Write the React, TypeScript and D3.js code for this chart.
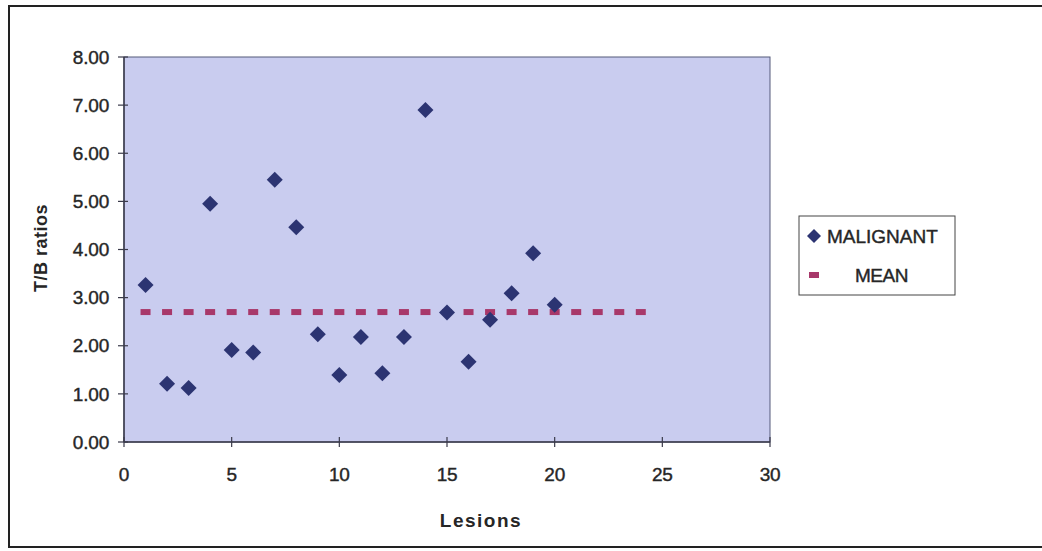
import React from "react";
import * as d3 from "d3";

// Lesion number vs T/B ratio (malignant)
const lesions = [1, 2, 3, 4, 5, 6, 7, 8, 9, 10, 11, 12, 13, 14, 15, 16, 17, 18, 19, 20];
const malignant = [
  3.26, 1.21, 1.12, 4.95, 1.91, 1.86, 5.45, 4.46, 2.24, 1.39,
  2.18, 1.43, 2.18, 6.9, 2.69, 1.67, 2.54, 3.09, 3.92, 2.85,
];

// Mean series drawn as dash markers
const meanX = [1, 2, 3, 4, 5, 6, 7, 8, 9, 10, 11, 12, 13, 14, 15, 16, 17, 18, 19, 20, 21, 22, 23, 24];
const meanValues = [
  2.7, 2.7, 2.7, 2.7, 2.7, 2.7, 2.7, 2.7, 2.7, 2.7, 2.7, 2.7,
  2.7, 2.7, 2.7, 2.7, 2.7, 2.7, 2.7, 2.7, 2.7, 2.7, 2.7, 2.7,
];

const xTicks = [0, 5, 10, 15, 20, 25, 30];
const yTicks = [0, 1, 2, 3, 4, 5, 6, 7, 8];

const seriesNames = ["MALIGNANT", "MEAN"];

const W = 1042;
const H = 551;
const margin = { top: 57, right: 272, bottom: 109, left: 124 };
const font = "'Liberation Sans', Arial, sans-serif";
const navy = "#2c3472";
const crimson = "#a8386a";
const ink = "#262626";

export default function App() {
  const w = W - margin.left - margin.right;
  const h = H - margin.top - margin.bottom;

  const x = d3.scaleLinear().domain([0, 30]).range([0, w]);
  const y = d3.scaleLinear().domain([0, 8]).range([h, 0]);

  const diamond = (cx: number, cy: number, r: number) =>
    `M${cx},${cy - r}L${cx + r},${cy}L${cx},${cy + r}L${cx - r},${cy}Z`;

  const heavy = { stroke: ink, strokeWidth: 0.4 };

  return (
    <svg
      width={W}
      height={H}
      style={{ position: "absolute", left: 0, top: 0, background: "#fff" }}
    >
      {/* outer frame */}
      <rect x={9} y={6} width={W + 10} height={541} fill="none" stroke="#222" strokeWidth={2} />

      <g transform={`translate(${margin.left},${margin.top})`}>
        <rect x={0} y={0} width={w} height={h} fill="#c9ccef" stroke="#555a7a" strokeWidth={1} />

        {/* axes */}
        <line x1={0} x2={0} y1={0} y2={h} stroke="#3a3a4a" strokeWidth={1.5} />
        <line x1={0} x2={w} y1={h} y2={h} stroke="#3a3a4a" strokeWidth={1.5} />

        {yTicks.map((t) => (
          <g key={"y" + t} transform={`translate(0,${y(t)})`}>
            <line x1={-6} x2={4} stroke="#3a3a4a" strokeWidth={1.2} />
            <text
              x={-15}
              dy="0.35em"
              textAnchor="end"
              fontFamily={font}
              fontSize={19}
              fill={ink}
              letterSpacing={-0.2}
              {...heavy}
            >
              {d3.format(".2f")(t)}
            </text>
          </g>
        ))}

        {xTicks.map((t) => (
          <g key={"x" + t} transform={`translate(${x(t)},${h})`}>
            <line y1={-5} y2={5} stroke="#3a3a4a" strokeWidth={1.2} />
            <text
              y={39}
              textAnchor="middle"
              fontFamily={font}
              fontSize={19}
              fill={ink}
              letterSpacing={-0.2}
              {...heavy}
            >
              {t}
            </text>
          </g>
        ))}

        {/* mean markers */}
        {meanX.map((d, i) => (
          <rect
            key={"m" + i}
            x={x(d) - 5}
            y={y(meanValues[i]) - 3}
            width={10}
            height={6}
            fill={crimson}
          />
        ))}

        {/* malignant points */}
        {lesions.map((d, i) => (
          <path key={"p" + i} d={diamond(x(d), y(malignant[i]), 8)} fill={navy} />
        ))}
      </g>

      {/* axis titles */}
      <text
        transform={`translate(47,248) rotate(-90)`}
        textAnchor="middle"
        fontFamily={font}
        fontSize={18}
        fontWeight="bold"
        fill={ink}
        letterSpacing={0.5}
      >
        T/B ratios
      </text>
      <text
        x={481}
        y={527}
        textAnchor="middle"
        fontFamily={font}
        fontSize={19}
        fontWeight="bold"
        fill={ink}
        letterSpacing={1.5}
      >
        Lesions
      </text>

      {/* legend */}
      <g>
        <rect x={799} y={216} width={156} height={79} fill="#fff" stroke="#444" strokeWidth={1} />
        <path d={diamond(814, 236, 7)} fill={navy} />
        <text x={827} y={243} fontFamily={font} fontSize={19} fill={ink} letterSpacing={0} {...heavy}>
          {seriesNames[0]}
        </text>
        <rect x={809} y={272} width={10} height={6} fill={crimson} />
        <text x={855} y={282} fontFamily={font} fontSize={19} fill={ink} letterSpacing={-0.5} {...heavy}>
          {seriesNames[1]}
        </text>
      </g>
    </svg>
  );
}
